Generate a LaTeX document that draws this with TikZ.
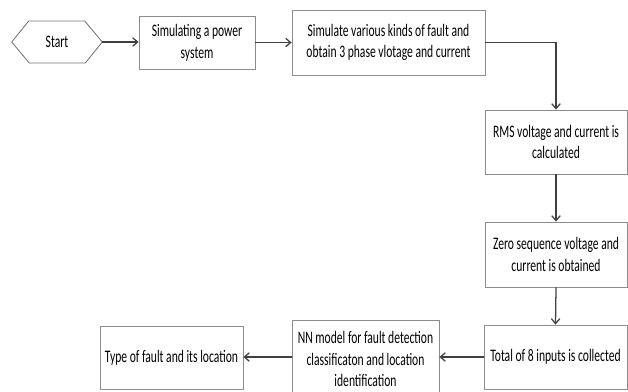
\documentclass[tikz,border=0pt]{standalone}
\usepackage{fontspec}
\setmainfont{Carlito}[FakeStretch=0.66]
\usetikzlibrary{arrows.meta}
\newcommand{\pxu}{0.025cm}
\begin{document}
\begin{tikzpicture}[x=\pxu, y=-\pxu, font=\fontsize{12.5pt}{15.5pt}\selectfont,
        box/.style = {draw=black!45, line width=0.6pt, align=center, inner sep=0pt},
        flow/.style = {draw=black!75, line width=0.9pt, -{Straight Barb[length=3.5pt, width=6pt]}}]
    \useasboundingbox (0, 0) rectangle (628, 391);
    \node [align=center, minimum width=90*\pxu, minimum height=42*\pxu, inner sep=0pt] (start) at (57, 42) {Start};
    \draw [draw=black!55, line width=0.6pt] (start.west) -- ++(17, -21) -- ++(56, 0) -- (start.east) -- ++(-17, 21) -- ++(-56, 0) -- cycle;
    \node [box, minimum width=116*\pxu, minimum height=53*\pxu] (sim) at (197, 42.5) {Simulating a power\\system};
    \node [box, minimum width=193*\pxu, minimum height=65*\pxu] (fault) at (388.5, 42.5) {Simulate various kinds of fault and\\obtain 3 phase vlotage and current};
    \node [box, minimum width=142*\pxu, minimum height=64*\pxu] (rms) at (556, 142) {RMS voltage and current is\\calculated};
    \node [box, minimum width=142*\pxu, minimum height=65*\pxu] (zero) at (556, 254.5) {Zero sequence voltage and\\current is obtained};
    \node [box, minimum width=143*\pxu, minimum height=64*\pxu] (total) at (555.5, 357) {Total of 8 inputs is collected};
    \node [box, minimum width=147*\pxu, minimum height=78*\pxu] (nn) at (365.5, 359) {NN model for fault detection\\classificaton and location\\identification};
    \node [box, minimum width=143*\pxu, minimum height=63*\pxu] (type) at (171.5, 357.5) {Type of fault and its location};
    \draw [flow] (start.east) -- (sim.west |- start.east);
    \draw [flow] (sim.east) -- (fault.west |- sim.east);
    \draw [flow] (fault.east) -| (rms.north);
    \draw [flow] (rms.south) -- (zero.north);
    \draw [flow] (zero.south) -- (total.north);
    \draw [flow] (total.west) -- (nn.east |- total.west);
    \draw [flow] (nn.west |- total.west) -- (type.east |- total.west);
\end{tikzpicture}
\end{document}
